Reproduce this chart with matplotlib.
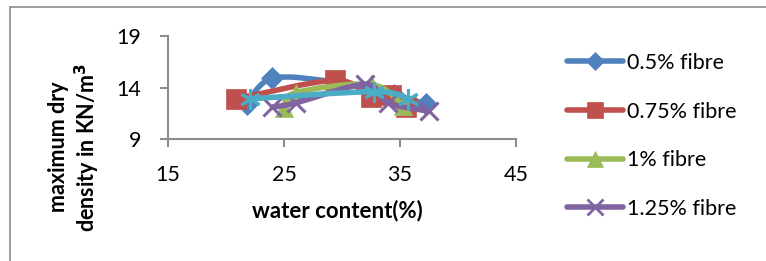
import matplotlib
matplotlib.use("Agg")
import matplotlib.pyplot as plt
from matplotlib.path import Path
from matplotlib.patches import PathPatch, Rectangle
from matplotlib.lines import Line2D
import numpy as np

plt.rcParams['font.family'] = ['Lato', 'DejaVu Sans']

# ---- data ----
labels = ["0.5% fibre", "0.75% fibre", "1% fibre", "1.25% fibre", ""]
wc_05 = [21.8, 24.0, 29.5, 34.5, 37.2]
dd_05 = [12.4, 14.9, 14.5, 13.3, 12.4]
wc_075 = [20.9, 29.4, 32.5, 34.2, 35.5]
dd_075 = [12.9, 14.7, 13.1, 13.3, 12.1]
wc_1 = [25.0, 26.0, 32.5, 35.3]
dd_1 = [12.0, 13.5, 14.3, 12.2]
wc_125 = [24.0, 26.0, 32.0, 34.0, 37.5]
dd_125 = [12.1, 12.5, 14.3, 12.5, 11.7]
wc_x = [22.1, 32.8, 35.7]
dd_x = [12.9, 13.6, 12.9]

x_ticks = [15, 25, 35, 45]
y_ticks = [9, 14, 19]

colors = ["#4F81BD", "#C0504D", "#9BBB59", "#8064A2", "#4BACC6"]
markers = ["D", "s", "^", "x", (6, 2, 0)]
msizes = [11, 14, 13, 13, 15]
FS = 15.5
FSB = 16

W, H = 766, 261
fig = plt.figure(figsize=(W / 100, H / 100), dpi=100)
ax = fig.add_axes([168 / W, 1 - 139 / H, (516 - 168) / W, (139 - 36) / H])

# outer chart border (left + top visible)
fig.patches.append(Rectangle((10 / W, -0.1), 1.2, (1 - 7 / H) + 0.1, transform=fig.transFigure,
                             fill=False, edgecolor="#8c8c8c", linewidth=1.2))


def smooth_path(xs, ys, t=1 / 6):
    pts = np.column_stack([xs, ys])
    n = len(pts)
    verts = [pts[0]]
    codes = [Path.MOVETO]
    for i in range(n - 1):
        p0 = pts[i - 1] if i > 0 else pts[i]
        p1 = pts[i]
        p2 = pts[i + 1]
        p3 = pts[i + 2] if i + 2 < n else pts[i + 1]
        c1 = p1 + (p2 - p0) * t
        c2 = p2 - (p3 - p1) * t
        verts += [c1, c2, p2]
        codes += [Path.CURVE4] * 3
    return Path(verts, codes)


LW = 4.0
series = [(wc_05, dd_05), (wc_075, dd_075), (wc_1, dd_1), (wc_125, dd_125), (wc_x, dd_x)]
for i, (xs, ys) in enumerate(series):
    z = 3 + i
    ax.add_patch(PathPatch(smooth_path(xs, ys), fill=False, edgecolor=colors[i],
                           linewidth=LW, capstyle="round", joinstyle="round", zorder=z))
    mk = markers[i]
    filled = mk not in ("x",) and not isinstance(mk, tuple)
    ax.plot(xs, ys, linestyle="none", marker=mk, markersize=msizes[i],
            color=colors[i], markerfacecolor=colors[i] if filled else "none",
            markeredgecolor=colors[i], markeredgewidth=2.2 if not filled else 0.5, zorder=z + 0.5)

ax.set_xlim(15, 45)
ax.set_ylim(9, 19)
ax.set_xticks(x_ticks)
ax.set_yticks(y_ticks)
ax.set_xticklabels([str(v) for v in x_ticks])
ax.set_yticklabels([str(v) for v in y_ticks])
for s in ["top", "right"]:
    ax.spines[s].set_visible(False)
for s in ["left", "bottom"]:
    ax.spines[s].set_color("#8c8c8c")
    ax.spines[s].set_linewidth(1.5)
ax.tick_params(axis="both", which="major", direction="out", length=6, width=1.5,
               color="#8c8c8c", labelsize=FS)
ax.tick_params(axis="x", pad=13)
ax.tick_params(axis="y", pad=13)
ax.set_facecolor("none")

fig.text(337 / W, 1 - 211 / H, "water content(%)", ha="center", va="center",
         fontsize=FSB, fontweight="bold")
fig.text(75 / W, 1 - 147 / H, "maximum dry\ndensity in KN/m$^\\mathbf{3}$", ha="center", va="center",
         rotation=90, fontsize=FS, fontweight="bold", linespacing=1.15)

handles = []
for i in range(4):
    mk = markers[i]
    filled = mk != "x"
    handles.append(Line2D([], [], color=colors[i], linewidth=LW, solid_capstyle="round",
                          marker=mk, markersize=msizes[i] - 2,
                          markerfacecolor=colors[i] if filled else "none",
                          markeredgecolor=colors[i], markeredgewidth=2.0 if not filled else 0.5))
leg = fig.legend(handles, labels[:4], loc="upper left", bbox_to_anchor=(567 / W, 1 - 53 / H),
                 frameon=False, fontsize=FS, handlelength=2.6, handletextpad=0.2,
                 labelspacing=1.33, borderaxespad=0, borderpad=0)

fig.savefig("out.png", dpi=100)
